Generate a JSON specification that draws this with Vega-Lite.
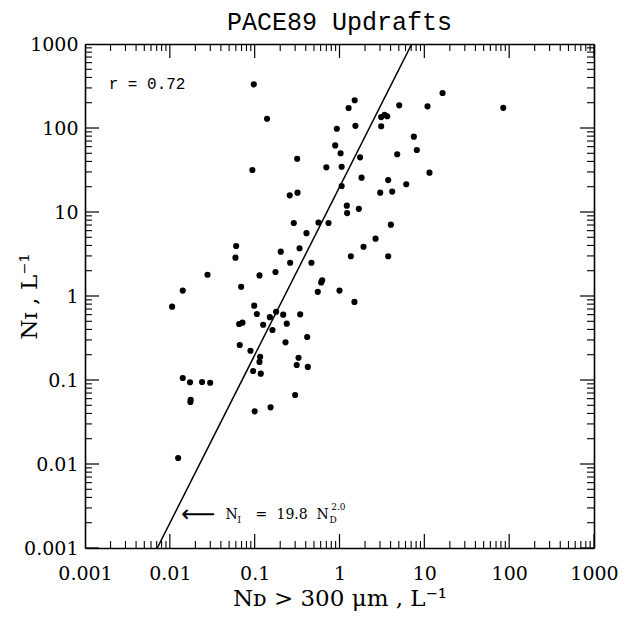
{
  "$schema": "https://vega.github.io/schema/vega-lite/v6.json",
  "width": 509,
  "height": 504,
  "autosize": "none",
  "padding": {"left": 85, "top": 44, "right": 34, "bottom": 75},
  "background": "white",
  "title": {"text": "PACE89 Updrafts", "font": "Liberation Mono", "fontSize": 25, "fontWeight": "normal", "color": "black", "offset": 0},
  "config": {
    "view": {"stroke": null},
    "axis": {
      "domainColor": "black", "domainWidth": 1.6, "grid": false,
      "labelFont": "DejaVu Serif", "labelFontSize": 19, "labelColor": "black",
      "titleFont": "DejaVu Serif", "titleFontSize": 23, "titleFontWeight": "normal", "titleColor": "black",
      "labelFlush": false, "labelOverlap": false
    }
  },
  "datasets": {
    "major": [{"v": 0.001}, {"v": 0.01}, {"v": 0.1}, {"v": 1}, {"v": 10}, {"v": 100}, {"v": 1000}],
    "minor": [{"v":0.002},{"v":0.003},{"v":0.004},{"v":0.005},{"v":0.006},{"v":0.007},{"v":0.008},{"v":0.009},{"v":0.02},{"v":0.03},{"v":0.04},{"v":0.05},{"v":0.06},{"v":0.07},{"v":0.08},{"v":0.09},{"v":0.2},{"v":0.3},{"v":0.4},{"v":0.5},{"v":0.6},{"v":0.7},{"v":0.8},{"v":0.9},{"v":2},{"v":3},{"v":4},{"v":5},{"v":6},{"v":7},{"v":8},{"v":9},{"v":20},{"v":30},{"v":40},{"v":50},{"v":60},{"v":70},{"v":80},{"v":90},{"v":200},{"v":300},{"v":400},{"v":500},{"v":600},{"v":700},{"v":800},{"v":900}]
  },
  "layer": [
    {
      "data": {"values": [
        {"nd":0.0976,"ni":331},{"nd":0.140,"ni":129},{"nd":1.28,"ni":173},{"nd":0.93,"ni":98},{"nd":0.89,"ni":62},{"nd":1.03,"ni":50},{"nd":0.317,"ni":43},{"nd":0.70,"ni":34},{"nd":1.06,"ni":34.6},{"nd":0.094,"ni":31.6},{"nd":1.06,"ni":20.4},{"nd":0.259,"ni":15.8},{"nd":0.32,"ni":17},{"nd":1.22,"ni":11.9},{"nd":1.23,"ni":9.7},{"nd":0.289,"ni":7.4},{"nd":0.565,"ni":7.5},{"nd":0.742,"ni":7.4},{"nd":0.408,"ni":5.6},{"nd":0.0605,"ni":3.94},{"nd":0.0594,"ni":2.86},{"nd":0.203,"ni":3.37},{"nd":0.338,"ni":3.70},{"nd":0.262,"ni":2.49},{"nd":0.467,"ni":2.49},{"nd":0.0278,"ni":1.79},{"nd":0.114,"ni":1.76},{"nd":0.176,"ni":1.93},{"nd":1.36,"ni":2.97},{"nd":0.625,"ni":1.54},{"nd":0.608,"ni":1.45},{"nd":0.0142,"ni":1.16},{"nd":0.0693,"ni":1.29},{"nd":0.555,"ni":1.12},{"nd":1.0,"ni":1.16},
        {"nd":0.01064,"ni":0.746},{"nd":0.0987,"ni":0.767},{"nd":0.106,"ni":0.61},{"nd":0.179,"ni":0.65},{"nd":0.151,"ni":0.56},{"nd":0.217,"ni":0.60},{"nd":0.344,"ni":0.605},{"nd":0.0656,"ni":0.464},{"nd":0.0718,"ni":0.481},{"nd":0.126,"ni":0.455},{"nd":0.239,"ni":0.468},{"nd":0.162,"ni":0.394},{"nd":0.416,"ni":0.325},{"nd":0.0667,"ni":0.261},{"nd":0.231,"ni":0.281},{"nd":0.0892,"ni":0.223},{"nd":0.116,"ni":0.189},{"nd":0.114,"ni":0.164},{"nd":0.329,"ni":0.184},{"nd":0.313,"ni":0.151},{"nd":0.423,"ni":0.143},{"nd":0.096,"ni":0.128},{"nd":0.118,"ni":0.119},{"nd":0.0142,"ni":0.1057},{"nd":0.0173,"ni":0.094},{"nd":0.024,"ni":0.0947},{"nd":0.0299,"ni":0.0928},{"nd":0.30,"ni":0.0663},{"nd":0.0176,"ni":0.0582},{"nd":0.0175,"ni":0.0547},{"nd":0.100,"ni":0.0424},{"nd":0.154,"ni":0.0473},{"nd":0.01253,"ni":0.01178},
        {"nd":16.4,"ni":261},{"nd":1.51,"ni":214},{"nd":5.06,"ni":186},{"nd":10.9,"ni":181},{"nd":85.2,"ni":174},{"nd":3.10,"ni":135},{"nd":3.40,"ni":143},{"nd":3.65,"ni":138},{"nd":1.54,"ni":106},{"nd":3.10,"ni":105},{"nd":7.52,"ni":78.8},{"nd":8.16,"ni":54.7},{"nd":4.79,"ni":48.7},{"nd":1.75,"ni":44.8},{"nd":11.5,"ni":29.4},{"nd":1.82,"ni":25.6},{"nd":3.75,"ni":24.0},{"nd":6.12,"ni":21.4},{"nd":3.02,"ni":17.0},{"nd":4.18,"ni":17.5},{"nd":1.69,"ni":10.9},{"nd":4.03,"ni":7.06},{"nd":2.66,"ni":4.81},{"nd":1.92,"ni":3.86},{"nd":3.75,"ni":2.97},{"nd":1.50,"ni":0.85}
      ]},
      "mark": {"type": "circle", "size": 38, "color": "black", "opacity": 1},
      "encoding": {
        "x": {"field": "nd", "type": "quantitative", "scale": {"type": "log", "domain": [0.001, 1000], "nice": false},
          "axis": {"orient": "bottom", "values": [0.001, 0.01, 0.1, 1, 10, 100, 1000], "format": "~g",
            "ticks": false, "domain": true, "labelPadding": 16, "title": "Nᴅ > 300 μm , L⁻¹", "titlePadding": 4}},
        "y": {"field": "ni", "type": "quantitative", "scale": {"type": "log", "domain": [0.001, 1000], "nice": false},
          "axis": {"orient": "left", "values": [0.001, 0.01, 0.1, 1, 10, 100, 1000], "format": "~g",
            "ticks": false, "domain": true, "labelPadding": 7, "title": "Nɪ , L⁻¹", "titlePadding": -18}}
      }
    },
    {
      "data": {"values": [{"nd": 0.00711, "ni": 0.001}, {"nd": 7.107, "ni": 1000}]},
      "mark": {"type": "line", "color": "black", "strokeWidth": 1.5, "clip": true},
      "encoding": {
        "x": {"field": "nd", "type": "quantitative", "scale": {"type": "log", "domain": [0.001, 1000], "nice": false},
          "axis": {"orient": "top", "ticks": false, "domain": true, "labels": false, "title": null}},
        "y": {"field": "ni", "type": "quantitative", "scale": {"type": "log", "domain": [0.001, 1000], "nice": false},
          "axis": {"orient": "right", "ticks": false, "domain": true, "labels": false, "title": null}}
      }
    },
    {
      "data": {"name": "major"},
      "mark": {"type": "tick", "orient": "vertical", "size": 28, "thickness": 1.2, "color": "black", "opacity": 1, "clip": true},
      "encoding": {"x": {"field": "v", "type": "quantitative", "axis": null}, "y": {"datum": 0.001, "type": "quantitative", "axis": null}}
    },
    {
      "data": {"name": "major"},
      "mark": {"type": "tick", "orient": "vertical", "size": 28, "thickness": 1.2, "color": "black", "opacity": 1, "clip": true},
      "encoding": {"x": {"field": "v", "type": "quantitative", "axis": null}, "y": {"datum": 1000, "type": "quantitative", "axis": null}}
    },
    {
      "data": {"name": "minor"},
      "mark": {"type": "tick", "orient": "vertical", "size": 14, "thickness": 1.1, "color": "black", "opacity": 1, "clip": true},
      "encoding": {"x": {"field": "v", "type": "quantitative", "axis": null}, "y": {"datum": 0.001, "type": "quantitative", "axis": null}}
    },
    {
      "data": {"name": "minor"},
      "mark": {"type": "tick", "orient": "vertical", "size": 14, "thickness": 1.1, "color": "black", "opacity": 1, "clip": true},
      "encoding": {"x": {"field": "v", "type": "quantitative", "axis": null}, "y": {"datum": 1000, "type": "quantitative", "axis": null}}
    },
    {
      "data": {"name": "major"},
      "mark": {"type": "tick", "orient": "horizontal", "size": 28, "thickness": 1.2, "color": "black", "opacity": 1, "clip": true},
      "encoding": {"y": {"field": "v", "type": "quantitative", "axis": null}, "x": {"datum": 0.001, "type": "quantitative", "axis": null}}
    },
    {
      "data": {"name": "major"},
      "mark": {"type": "tick", "orient": "horizontal", "size": 28, "thickness": 1.2, "color": "black", "opacity": 1, "clip": true},
      "encoding": {"y": {"field": "v", "type": "quantitative", "axis": null}, "x": {"datum": 1000, "type": "quantitative", "axis": null}}
    },
    {
      "data": {"name": "minor"},
      "mark": {"type": "tick", "orient": "horizontal", "size": 14, "thickness": 1.1, "color": "black", "opacity": 1, "clip": true},
      "encoding": {"y": {"field": "v", "type": "quantitative", "axis": null}, "x": {"datum": 0.001, "type": "quantitative", "axis": null}}
    },
    {
      "data": {"name": "minor"},
      "mark": {"type": "tick", "orient": "horizontal", "size": 14, "thickness": 1.1, "color": "black", "opacity": 1, "clip": true},
      "encoding": {"y": {"field": "v", "type": "quantitative", "axis": null}, "x": {"datum": 1000, "type": "quantitative", "axis": null}}
    },
    {
      "data": {"values": [{"nd": 0.0019, "ni": 330, "t": "r = 0.72"}]},
      "mark": {"type": "text", "align": "left", "baseline": "middle", "font": "Liberation Mono", "fontSize": 16, "color": "black"},
      "encoding": {
        "x": {"field": "nd", "type": "quantitative", "axis": null},
        "y": {"field": "ni", "type": "quantitative", "axis": null},
        "text": {"field": "t"}
      }
    },
    {
      "data": {"values": [{"nd": 0.0135, "ni": 0.00247, "t": "⟵"}]},
      "mark": {"type": "text", "align": "left", "baseline": "middle", "font": "DejaVu Sans", "fontSize": 24, "color": "black"},
      "encoding": {
        "x": {"field": "nd", "type": "quantitative", "axis": null},
        "y": {"field": "ni", "type": "quantitative", "axis": null},
        "text": {"field": "t"}
      }
    },
    {
      "data": {"values": [
        {"nd": 0.0453, "ni": 0.00247, "t": "N"},
        {"nd": 0.102, "ni": 0.00247, "t": "="},
        {"nd": 0.181, "ni": 0.00247, "t": "19.8"},
        {"nd": 0.535, "ni": 0.00247, "t": "N"}
      ]},
      "mark": {"type": "text", "align": "left", "baseline": "middle", "font": "DejaVu Serif", "fontSize": 14, "color": "black"},
      "encoding": {
        "x": {"field": "nd", "type": "quantitative", "axis": null},
        "y": {"field": "ni", "type": "quantitative", "axis": null},
        "text": {"field": "t"}
      }
    },
    {
      "data": {"values": [
        {"nd": 0.0627, "ni": 0.00215, "t": "I"},
        {"nd": 0.762, "ni": 0.00215, "t": "D"},
        {"nd": 0.80, "ni": 0.00305, "t": "2.0"}
      ]},
      "mark": {"type": "text", "align": "left", "baseline": "middle", "font": "DejaVu Serif", "fontSize": 9, "color": "black"},
      "encoding": {
        "x": {"field": "nd", "type": "quantitative", "axis": null},
        "y": {"field": "ni", "type": "quantitative", "axis": null},
        "text": {"field": "t"}
      }
    }
  ],
  "resolve": {"axis": {"x": "independent", "y": "independent"}}
}
